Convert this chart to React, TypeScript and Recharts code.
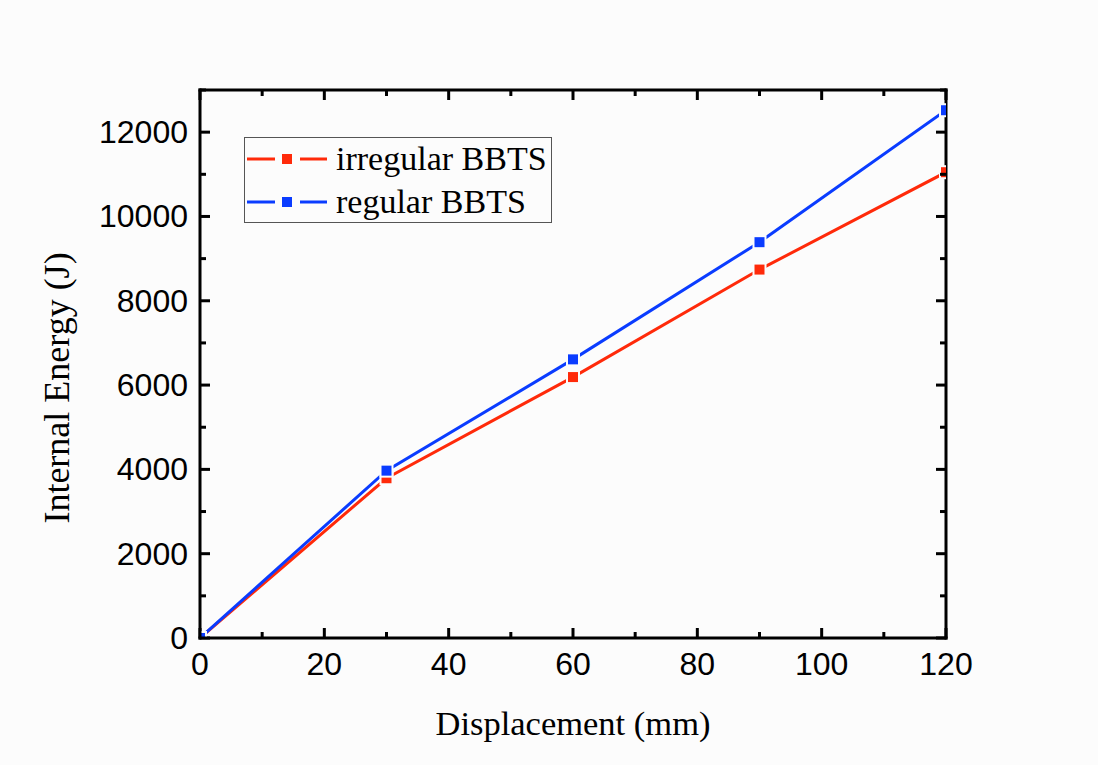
import { LineChart, Line, XAxis, YAxis, Legend, Label } from "recharts";

const displacement = [0, 30, 60, 90, 120];
const irregularBBTS = [0, 3790, 6190, 8740, 11050];
const regularBBTS = [0, 3970, 6610, 9390, 12520];

const xTicks = [0, 10, 20, 30, 40, 50, 60, 70, 80, 90, 100, 110, 120];
const xMajor = [0, 20, 40, 60, 80, 100, 120];
const yTicks = [
  0, 1000, 2000, 3000, 4000, 5000, 6000, 7000, 8000, 9000, 10000, 11000,
  12000, 13000,
];
const yMajor = [0, 2000, 4000, 6000, 8000, 10000, 12000];

const RED = "#ff2a0a";
const BLUE = "#0a3cff";
const BG = "#fcfcfc";
const TICK_FONT = "'Liberation Sans', Arial, sans-serif";
const TITLE_FONT = "'Liberation Serif', 'Times New Roman', serif";

const data = displacement.map((d, i) => ({
  displacement: d,
  irregular: irregularBBTS[i],
  regular: regularBBTS[i],
}));

const BottomTick = ({ x, y, payload }: any) => {
  const major = xMajor.includes(payload.value);
  return (
    <g>
      <line x1={x} x2={x} y1={y} y2={y - (major ? 10 : 6)} stroke="#000" strokeWidth={3} />
      {major && (
        <text x={x} y={y + 37} textAnchor="middle" fontSize={32} fontFamily={TICK_FONT} fill="#000">
          {payload.value}
        </text>
      )}
    </g>
  );
};

const TopTick = ({ x, y, payload }: any) => {
  const major = xMajor.includes(payload.value);
  return <line x1={x} x2={x} y1={y} y2={y + (major ? 10 : 6)} stroke="#000" strokeWidth={3} />;
};

const LeftTick = ({ x, y, payload }: any) => {
  const major = yMajor.includes(payload.value);
  return (
    <g>
      <line x1={x} x2={x + (major ? 10 : 6)} y1={y} y2={y} stroke="#000" strokeWidth={3} />
      {major && (
        <text x={x - 12} y={y + 11} textAnchor="end" fontSize={32} fontFamily={TICK_FONT} fill="#000">
          {payload.value}
        </text>
      )}
    </g>
  );
};

const RightTick = ({ x, y, payload }: any) => {
  const major = yMajor.includes(payload.value);
  return <line x1={x} x2={x - (major ? 10 : 6)} y1={y} y2={y} stroke="#000" strokeWidth={3} />;
};

const SquareDot = (color: string) => (p: any) => (
  <rect
    key={`dot-${p.index}`}
    x={p.cx - 6}
    y={p.cy - 6}
    width={12}
    height={12}
    fill={color}
    stroke={BG}
    strokeWidth={2}
  />
);

const LegendBox = ({ payload }: any) => (
  <svg width={309} height={87} style={{ display: "block" }}>
    <rect x={0.5} y={0.5} width={307} height={85} fill={BG} stroke="#555" strokeWidth={1} />
    {(payload || [])
      .filter((entry: any) => entry.type !== "none")
      .map((entry: any, i: number) => {
        const cy = 22 + i * 43;
        return (
          <g key={entry.value}>
            <line x1={3} x2={31} y1={cy} y2={cy} stroke={entry.color} strokeWidth={3} />
            <rect x={38} y={cy - 5} width={10} height={10} fill={entry.color} />
            <line x1={56} x2={83} y1={cy} y2={cy} stroke={entry.color} strokeWidth={3} />
            <text x={92} y={cy + 11} fontSize={34} fontFamily={TITLE_FONT} fill="#000">
              {entry.value}
            </text>
          </g>
        );
      })}
  </svg>
);

const axisLine = { stroke: "#000", strokeWidth: 3, strokeLinecap: "square" as const };

export default function App() {
  return (
    <div style={{ position: "absolute", left: 0, top: 0, width: 1098, height: 765, background: BG }}>
      <LineChart
        width={1098}
        height={765}
        data={data}
        margin={{ top: 89, right: 151, bottom: 0, left: 0 }}
      >
        <XAxis
          dataKey="displacement"
          type="number"
          domain={[0, 120]}
          ticks={xTicks}
          interval={0}
          allowDataOverflow
          height={127}
          tickSize={0}
          tickMargin={0}
          tickLine={false}
          axisLine={axisLine}
          tick={<BottomTick />}
        >
          <Label
            content={({ viewBox }: any) => (
              <text
                x={viewBox.x + viewBox.width / 2}
                y={viewBox.y + 97}
                textAnchor="middle"
                fontSize={34.5}
                fontFamily={TITLE_FONT}
                fill="#000"
              >
                Displacement (mm)
              </text>
            )}
          />
        </XAxis>
        <XAxis
          xAxisId="top"
          orientation="top"
          dataKey="displacement"
          type="number"
          domain={[0, 120]}
          ticks={xTicks}
          interval={0}
          allowDataOverflow
          height={1}
          tickSize={0}
          tickMargin={0}
          tickLine={false}
          axisLine={axisLine}
          tick={<TopTick />}
        />
        <YAxis
          type="number"
          domain={[0, 13000]}
          ticks={yTicks}
          interval={0}
          allowDataOverflow
          width={200}
          tickSize={0}
          tickMargin={0}
          tickLine={false}
          axisLine={axisLine}
          tick={<LeftTick />}
        >
          <Label
            content={() => (
              <text
                x={69}
                y={388}
                transform="rotate(-90, 69, 388)"
                textAnchor="middle"
                fontSize={36}
                fontFamily={TITLE_FONT}
                fill="#000"
              >
                Internal Energy (J)
              </text>
            )}
          />
        </YAxis>
        <YAxis
          yAxisId="right"
          orientation="right"
          type="number"
          domain={[0, 13000]}
          ticks={yTicks}
          interval={0}
          allowDataOverflow
          width={1}
          tickSize={0}
          tickMargin={0}
          tickLine={false}
          axisLine={axisLine}
          tick={<RightTick />}
        />
        <Legend
          layout="horizontal"
          verticalAlign="middle"
          align="center"
          content={<LegendBox />}
          wrapperStyle={{ position: "absolute", left: 244, top: 137, width: 309, height: 87 }}
        />
        {/* invisible series so the mirrored top/right frame axes get drawn */}
        <Line
          xAxisId="top"
          yAxisId="right"
          dataKey="irregular"
          stroke="none"
          dot={false}
          activeDot={false}
          legendType="none"
          isAnimationActive={false}
        />
        <Line
          name="irregular BBTS"
          dataKey="irregular"
          stroke={RED}
          strokeWidth={3}
          dot={SquareDot(RED)}
          activeDot={false}
          isAnimationActive={false}
        />
        <Line
          name="regular BBTS"
          dataKey="regular"
          stroke={BLUE}
          strokeWidth={3}
          dot={SquareDot(BLUE)}
          activeDot={false}
          isAnimationActive={false}
        />
      </LineChart>
    </div>
  );
}
